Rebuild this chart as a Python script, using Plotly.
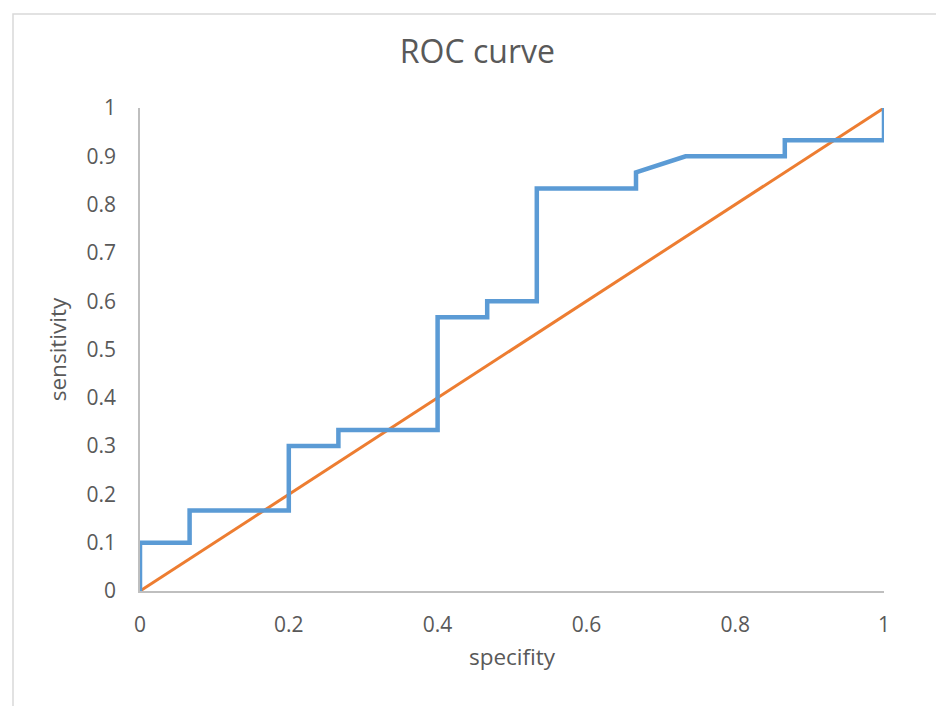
import plotly.graph_objects as go

# ROC curve points (specifity, sensitivity)
roc_x = [0, 0, 1/15, 1/15, 3/15, 3/15, 4/15, 4/15, 6/15, 6/15, 7/15, 7/15, 8/15, 8/15,
         10/15, 10/15, 11/15, 13/15, 13/15, 1, 1]
roc_y = [0, 0.1, 0.1, 5/30, 5/30, 0.3, 0.3, 1/3, 1/3, 17/30, 17/30, 0.6, 0.6, 25/30,
         25/30, 26/30, 0.9, 0.9, 28/30, 28/30, 1]
diag_x = [0, 1]
diag_y = [0, 1]

x_ticks = [0, 0.2, 0.4, 0.6, 0.8, 1]
x_tick_labels = ["0", "0.2", "0.4", "0.6", "0.8", "1"]
y_ticks = [0, 0.1, 0.2, 0.3, 0.4, 0.5, 0.6, 0.7, 0.8, 0.9, 1]
y_tick_labels = ["0", "0.1", "0.2", "0.3", "0.4", "0.5", "0.6", "0.7", "0.8", "0.9", "1"]

font_family = "Open Sans, Liberation Sans, sans-serif"
grey = "#595959"

fig = go.Figure()
fig.add_trace(go.Scatter(x=diag_x, y=diag_y, mode="lines",
                         line=dict(color="#ED7D31", width=3), showlegend=False))
fig.add_trace(go.Scatter(x=roc_x, y=roc_y, mode="lines",
                         line=dict(color="#5B9BD5", width=4.5), showlegend=False))

fig.update_layout(
    width=936, height=706,
    margin=dict(l=140, r=52, t=108, b=115),
    paper_bgcolor="white", plot_bgcolor="white",
    title=dict(text="ROC curve", x=0.51, xanchor="center", y=0.926, yanchor="middle",
               font=dict(family=font_family, size=32, color=grey)),
    font=dict(family=font_family, size=21, color=grey),
    xaxis=dict(range=[0, 1], tickvals=x_ticks, ticktext=x_tick_labels,
               showgrid=False, zeroline=False, showline=True, linecolor="#BFBFBF",
               linewidth=1.5, ticks="", ticklabelstandoff=14,
               title=dict(text="specifity", font=dict(size=22.5, color=grey), standoff=12)),
    yaxis=dict(range=[0, 1], tickvals=y_ticks, ticktext=y_tick_labels,
               showgrid=False, zeroline=False, showline=True, linecolor="#BFBFBF",
               linewidth=1.5, ticks="", ticklabelstandoff=18,
               title=dict(text="sensitivity", font=dict(size=22.5, color=grey), standoff=14)),
    shapes=[dict(type="rect", xref="paper", yref="paper",
                 x0=(13 - 140) / 744, x1=1.3, y0=-0.5, y1=(591 - 14) / 483,
                 line=dict(color="#D9D9D9", width=1.5), fillcolor="rgba(0,0,0,0)",
                 layer="below")],
)

fig.write_html("out.html")
